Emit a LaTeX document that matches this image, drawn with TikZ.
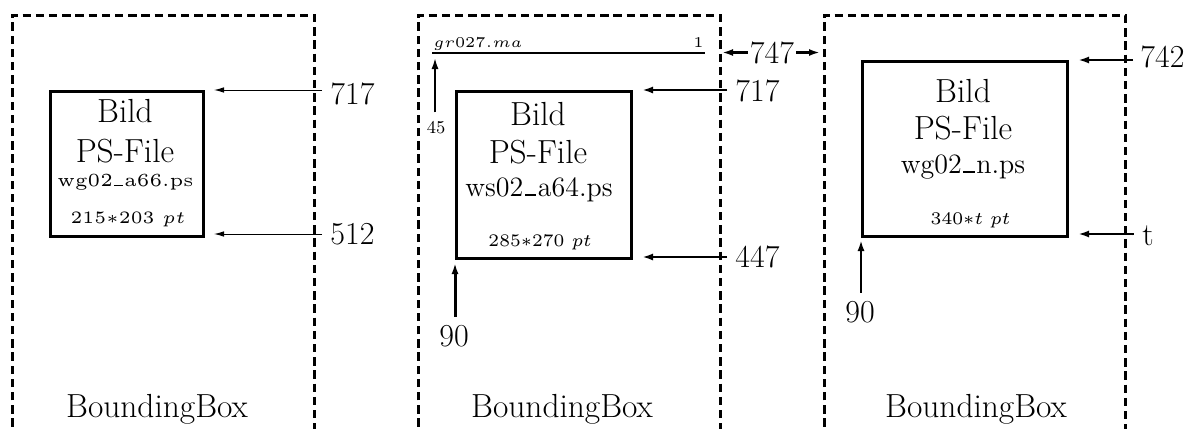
\documentclass[tikz,border=0pt]{standalone}
\usetikzlibrary{arrows.meta}
\usepackage{graphicx}
\newcommand\bigfs{\fontsize{16.7}{19}\selectfont}
\newcommand\lblfs{\fontsize{16}{19}\selectfont}
\newcommand\midfs{\fontsize{14}{17}\selectfont}
\newcommand\sm[3]{\scalebox{#2}{\fontsize{#1}{#1}\selectfont #3}}
\newcommand\us[1][0.4em]{\kern.06em\rule{#1}{0.07em}\kern.06em}
\begin{document}
\begin{tikzpicture}[x=0.5pt,y=-0.5pt,
  bbox/.style={line width=1.5pt, dash pattern=on 4.2pt off 2.4pt},
  imgbox/.style={draw, line width=1.35pt, inner sep=0pt, anchor=north west},
  txt/.style={inner sep=0pt, anchor=base},
  lbl/.style={inner sep=0pt, font=\lblfs},
  thinarr/.style={line width=0.5pt, -{Latex[length=5pt,width=2.8pt]}},
  arr/.style={line width=1.2pt, -{Latex[length=5.5pt,width=3.5pt]}}]
\useasboundingbox (0,0) rectangle (1187,428);
\clip (0,0) rectangle (1187,428);
% ---------- panel 1
\draw[bbox] (12,440) -- (12,15) -- (314,15) -- (314,440);
\node[imgbox, minimum width=76.5pt, minimum height=72.5pt] (box1) at (49,90) {};
\node[txt, font=\bigfs] (b1a) at (125,122) {Bild};
\node[txt, font=\bigfs] (b1b) at (125,162) {PS-File};
\node[txt] (b1c) at (125.5,186) {\sm{5}{1.85}{wg02\us[0.5em]a66.ps}};
\node[txt] (b1d) at (128,223) {\sm{5}{1.74}{215$*$203 $pt$}};
\node[lbl, anchor=west] (p1a) at (330,94) {717};
\node[lbl, anchor=west] (p1b) at (330,234) {512};
\coordinate (p1at) at (214,90);
\coordinate (p1bt) at (214,234);
\draw[thinarr] (p1a.west) ++(-8,-4) -- (p1at);
\draw[thinarr] (p1b.west) ++(-8,0) -- (p1bt);
\node[txt, font=\bigfs] (bb1) at (157,417) {BoundingBox};
% ---------- panel 2
\draw[bbox] (418,440) -- (418,15) -- (720,15) -- (720,440);
\node[imgbox, minimum width=87.5pt, minimum height=83.5pt] (box2) at (455,90) {};
\node[txt, font=\bigfs] (b2a) at (538,125) {Bild};
\node[txt, font=\bigfs] (b2b) at (538,163) {PS-File};
\node[txt, font=\midfs] (b2c) at (539,196) {ws02\us a64.ps};
\node[txt] (b2d) at (540,246) {\sm{6}{1.47}{285$*$270 $pt$}};
\node[txt, anchor=base west] (gr) at (433,47) {\sm{5}{1.5}{$gr027.ma$}};
\node[txt, anchor=base east] (one) at (704,47) {\sm{5}{1.5}{1}};
\coordinate (grl) at (432,53);
\coordinate (grr) at (705,53);
\draw[line width=1pt] (grl) -- (grr);
\node[inner sep=0pt] (l45) at (436,128) {\fontsize{9}{10}\selectfont 45};
\coordinate (t45) at (435,58);
\draw[arr, line width=0.9pt] (l45.north) ++(-1,-9) -- (t45);
\node[lbl, anchor=west] (p2a) at (735,91) {717};
\node[lbl, anchor=west] (p2b) at (735,257) {447};
\coordinate (p2at) at (642,90);
\coordinate (p2bt) at (642,257);
\draw[arr] (p2a.west) ++(-8,-1) -- (p2at);
\draw[arr] (p2b.west) ++(-8,0) -- (p2bt);
\node[lbl] (l747) at (772,52.5) {747};
\coordinate (t747l) at (722,52.5);
\coordinate (t747r) at (820,52.5);
\draw[arr] (l747.west) ++(-2,0) -- (t747l);
\draw[arr] (l747.east) ++(2,0) -- (t747r);
\node[lbl] (l90a) at (454,336) {90};
\coordinate (t90a) at (455,263);
\draw[arr, line width=1.5pt] (l90a.north) ++(1,-8) -- (t90a);
\node[txt, font=\bigfs] (bb2) at (562,417) {BoundingBox};
% ---------- panel 3
\draw[bbox] (824,440) -- (824,15) -- (1125,15) -- (1125,440);
\node[imgbox, minimum width=102.5pt, minimum height=87.5pt] (box3) at (861,60) {};
\node[txt, font=\bigfs] (b3a) at (963,102) {Bild};
\node[txt, font=\bigfs] (b3b) at (963,139) {PS-File};
\node[txt, font=\midfs] (b3c) at (963,173) {wg02\us n.ps};
\node[txt] (b3d) at (970.5,224) {\sm{6}{1.48}{340$*t$ $pt$}};
\node[lbl, anchor=west] (p3a) at (1140,56.5) {742};
\node[lbl, anchor=base west] (p3b) at (1142,245) {t};
\coordinate (p3at) at (1078,60);
\coordinate (p3bt) at (1078,234);
\draw[arr] (p3a.west) ++(-7,3.5) -- (p3at);
\draw[arr] (p3b.west) ++(-9,0) |- (p3bt);
\node[lbl] (l90b) at (860,312) {90};
\coordinate (t90b) at (861,240);
\draw[arr, line width=1.1pt] (l90b.north) ++(1,-8) -- (t90b);
\node[txt, font=\bigfs] (bb3) at (976,417) {BoundingBox};
\end{tikzpicture}
\end{document}
